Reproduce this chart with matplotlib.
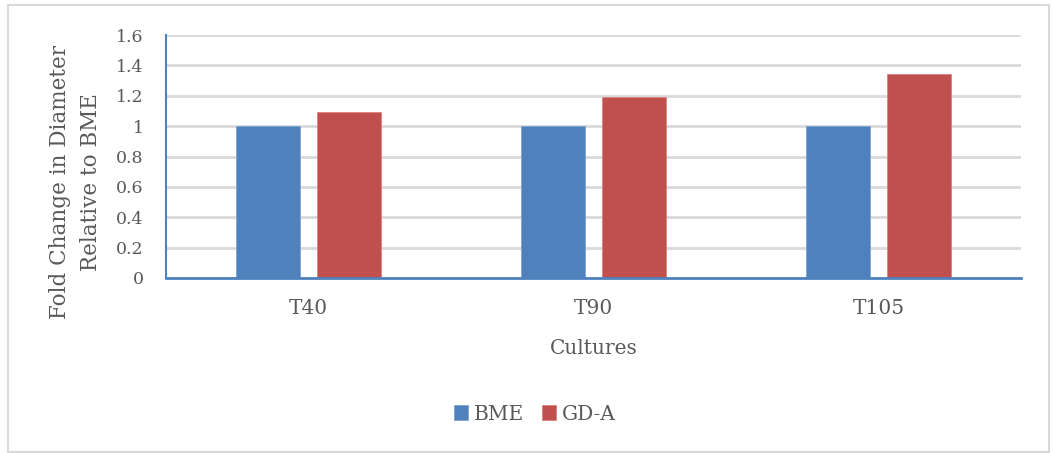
import matplotlib
matplotlib.use("Agg")
import matplotlib.pyplot as plt
from matplotlib.patches import Rectangle
import numpy as np

cultures = ["T40", "T90", "T105"]
bme = [1.0, 1.0, 1.0]
gda = [1.09, 1.19, 1.34]
yticks = [0, 0.2, 0.4, 0.6, 0.8, 1, 1.2, 1.4, 1.6]
ytick_labels = ["0", "0.2", "0.4", "0.6", "0.8", "1", "1.2", "1.4", "1.6"]

plt.rcParams['font.family'] = ['DejaVu Serif']
text_col = '#595959'

fig = plt.figure(figsize=(10.53, 4.53), dpi=100)
W, H = 1053, 453
ax = fig.add_axes([166 / W, 1 - 278 / H, (1021 - 166) / W, (278 - 35) / H])

x = np.arange(len(cultures))
width = 0.225
off = 0.142
ax.bar(x - off, bme, width, color='#4F81BD', edgecolor='#7FA3D3', linewidth=0.6, label='BME', zorder=3)
ax.bar(x + off, gda, width, color='#C0504D', edgecolor='#D8827F', linewidth=0.6, label='GD-A', zorder=3)

ax.set_xlim(-0.5, 2.5)
ax.set_ylim(0, 1.6)
ax.set_yticks(yticks)
ax.set_yticklabels(ytick_labels)
ax.set_xticks(x)
ax.set_xticklabels(cultures)
ax.tick_params(axis='both', length=0, colors=text_col)
ax.tick_params(axis='y', labelsize=12.5, pad=16)
ax.tick_params(axis='x', labelsize=14.5, pad=15)

ax.grid(axis='y', color='#D9D9D9', linewidth=2, zorder=0)
for s in ['top', 'right']:
    ax.spines[s].set_visible(False)
ax.spines['left'].set_color('#4F81BD')
ax.spines['left'].set_linewidth(1.5)
ax.spines['bottom'].set_color('#4F81BD')
ax.spines['bottom'].set_linewidth(2)
ax.spines['bottom'].set_zorder(4)

ax.set_xlabel('Cultures', fontsize=14.5, color=text_col, labelpad=15)

# two-line y axis title
fig.text(60 / W, 1 - 182 / H, 'Fold Change in Diameter', rotation=90,
         ha='center', va='center', fontsize=15.5, color=text_col)
fig.text(91 / W, 1 - 182 / H, 'Relative to BME', rotation=90,
         ha='center', va='center', fontsize=15.5, color=text_col)

fig.legend(loc='center', bbox_to_anchor=(535 / W, 1 - 414 / H), ncol=2, frameon=False,
           fontsize=14.5, labelcolor=text_col, handlelength=0.7, handleheight=0.7,
           handletextpad=0.3, columnspacing=0.9)

fig.patches.append(Rectangle((8 / W, 1 - 452 / H), (1049 - 8) / W, (452 - 5) / H,
                             transform=fig.transFigure, fill=False,
                             edgecolor='#D9D9D9', linewidth=1.5))

fig.savefig('out.png', dpi=100)
